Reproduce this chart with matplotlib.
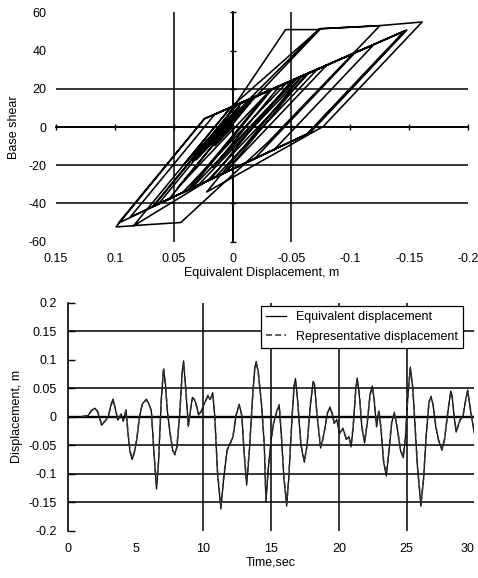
import matplotlib
matplotlib.use("Agg")
import matplotlib.pyplot as plt

plt.rcParams['font.family'] = ['Liberation Sans', 'DejaVu Sans']
plt.rcParams['axes.unicode_minus'] = False
plt.rcParams['font.size'] = 9

# ---------------- Top chart: hysteresis (equivalent displacement vs base shear)
HYST_X = [0.000, 0.015, -0.015, 0.031, -0.006, 0.012, -0.045, -0.074, 0.031, -0.010,
          -0.074, -0.125, -0.030, 0.044, 0.084, 0.002, -0.065, 0.0215, 0.084, 0.099,
          0.024, -0.017, 0.034, 0.003, 0.042, 0.0017, -0.074, -0.125, -0.161, -0.077,
          0.022, -0.059, -0.120, -0.0356, 0.097, 0.024, -0.148, -0.066, 0.019, -0.050,
          -0.147, -0.064, 0.067, -0.004, -0.080, 0.0067, 0.063, -0.0078, -0.055, 0.017,
          -0.040, -0.053, 0.035, 0.068, -0.003, -0.046, 0.0425, 0.054, -0.0165, -0.104,
          -0.0186, 0.006, -0.0624, -0.072, 0.015, 0.087, 0.0153, -0.146, -0.063, 0.036,
          -0.0336, -0.059, 0.029, 0.038, -0.030, 0.047, -0.016, -0.030]
HYST_F = [0.0, -9.8, 12.7, -17.2, 10.6, -1.1, 51.0, 51.0, -17.0, 12.0,
          51.5, 53.0, -8.0, -50.0, -51.6, 9.9, 28.3, -28.2, -51.7, -52.3,
          4.2, 15.3, -17.9, 5.4, -20.0, 10.2, 51.4, 53.1, 55.0, 0.3,
          -34.0, 26.7, 43.2, -11.7, -50.3, 4.4, 50.8, -2.9, -27.5, 24.3,
          50.5, -3.4, -41.4, 11.8, 32.4, -23.9, -40.3, 12.8, 25.6, -21.2,
          21.5, 25.1, -32.2, -41.7, 11.5, 23.2, -34.3, -37.7, 15.2, 38.9,
          -16.6, -23.7, 27.6, 30.2, -26.4, -47.2, 6.5, 50.3, -3.8, -32.4,
          19.8, 26.7, -30.3, -33.0, 18.0, -32.0, 14.9, 18.8]

X1_TICKS = [0.15, 0.1, 0.05, 0.0, -0.05, -0.1, -0.15, -0.2]
X1_LABELS = ['0.15', '0.1', '0.05', '0', '-0.05', '-0.1', '-0.15', '-0.2']
Y1_TICKS = [60, 40, 20, 0, -20, -40, -60]
Y1_LABELS = ['60', '40', '20', '0', '-20', '-40', '-60']
Y1_GRID = [20, 0, -20, -40]
X1_GRID = [0.05, 0.0, -0.05]

# ---------------- Bottom chart: displacement time histories
TIME = [1.0, 1.5, 1.75, 2.0, 2.2, 2.5, 2.75, 3.0, 3.2, 3.35,
        3.5, 3.7, 3.95, 4.1, 4.3, 4.45, 4.6, 4.75, 4.9, 5.1,
        5.3, 5.5, 5.8, 6.0, 6.17, 6.35, 6.55, 6.7, 6.9, 7.07,
        7.2, 7.35, 7.55, 7.75, 7.9, 8.05, 8.25, 8.45, 8.55, 8.7,
        8.9, 9.05, 9.2, 9.35, 9.5, 9.65, 9.85, 10.0, 10.2, 10.35,
        10.5, 10.7, 10.85, 11.05, 11.3, 11.5, 11.75, 12.0, 12.2, 12.4,
        12.65, 12.85, 13.0, 13.2, 13.4, 13.65, 13.8, 13.9, 14.05, 14.3,
        14.5, 14.62, 14.8, 15.0, 15.2, 15.45, 15.6, 15.75, 15.95, 16.15,
        16.3, 16.55, 16.7, 16.8, 16.95, 17.2, 17.45, 17.65, 17.9, 18.1,
        18.2, 18.4, 18.65, 18.8, 18.95, 19.15, 19.35, 19.5, 19.65, 19.85,
        20.05, 20.3, 20.55, 20.75, 20.9, 21.05, 21.25, 21.35, 21.5, 21.7,
        21.9, 22.1, 22.3, 22.47, 22.6, 22.78, 22.95, 23.1, 23.3, 23.5,
        23.7, 23.9, 24.1, 24.3, 24.55, 24.75, 24.9, 25.1, 25.27, 25.45,
        25.6, 25.8, 26.05, 26.25, 26.45, 26.65, 26.8, 26.95, 27.15, 27.35,
        27.6, 27.8, 28.05, 28.25, 28.35, 28.5, 28.65, 28.8, 28.95, 29.15,
        29.35, 29.5, 29.65, 29.85, 30.0]
EQUIV = [0.0, 0.002, 0.010, 0.015, 0.010, -0.015, -0.008, 0.0, 0.022, 0.031,
         0.015, -0.006, 0.004, -0.008, 0.012, -0.030, -0.062, -0.075, -0.065, -0.040,
         0.0, 0.022, 0.031, 0.022, 0.010, -0.060, -0.127, -0.080, 0.030, 0.083,
         0.060, 0.010, -0.030, -0.060, -0.065, -0.055, 0.0, 0.080, 0.098, 0.050,
         -0.017, 0.010, 0.034, 0.030, 0.020, 0.003, 0.010, 0.018, 0.030, 0.036,
         0.030, 0.042, 0.0, -0.100, -0.162, -0.110, -0.060, -0.045, -0.035, 0.0,
         0.022, 0.0, -0.060, -0.120, -0.060, 0.040, 0.085, 0.097, 0.080, 0.020,
         -0.050, -0.150, -0.090, -0.041, -0.010, 0.012, 0.019, -0.030, -0.110, -0.157,
         -0.110, 0.0, 0.055, 0.067, 0.030, -0.050, -0.080, -0.050, 0.020, 0.062,
         0.058, 0.0, -0.055, -0.040, -0.024, 0.005, 0.017, 0.005, -0.012, -0.005,
         -0.030, -0.020, -0.040, -0.035, -0.053, -0.020, 0.050, 0.068, 0.040, -0.020,
         -0.046, -0.010, 0.040, 0.054, 0.030, -0.018, 0.010, -0.020, -0.080, -0.104,
         -0.060, -0.010, 0.006, -0.020, -0.060, -0.072, -0.040, 0.040, 0.087, 0.050,
         -0.010, -0.090, -0.157, -0.110, -0.030, 0.025, 0.036, 0.020, -0.018, -0.040,
         -0.059, -0.040, 0.010, 0.045, 0.036, 0.0, -0.027, -0.015, -0.006, 0.000,
         0.030, 0.047, 0.020, -0.010, -0.030]
REPRES = [0.0, 0.002, 0.011, 0.014, 0.009, -0.013, -0.008, 0.001, 0.020, 0.029,
          0.016, -0.005, 0.005, -0.007, 0.011, -0.028, -0.060, -0.072, -0.064, -0.038,
          0.002, 0.021, 0.030, 0.021, 0.011, -0.057, -0.122, -0.078, 0.028, 0.086,
          0.058, 0.012, -0.028, -0.058, -0.067, -0.053, 0.002, 0.078, 0.094, 0.052,
          -0.015, 0.012, 0.032, 0.031, 0.018, 0.005, 0.008, 0.020, 0.028, 0.038,
          0.031, 0.040, 0.002, -0.096, -0.158, -0.108, -0.058, -0.047, -0.033, 0.002,
          0.020, 0.002, -0.058, -0.116, -0.058, 0.038, 0.088, 0.094, 0.078, 0.022,
          -0.048, -0.146, -0.088, -0.043, -0.008, 0.010, 0.021, -0.028, -0.106, -0.152,
          -0.108, 0.002, 0.053, 0.064, 0.032, -0.048, -0.078, -0.052, 0.022, 0.060,
          0.056, 0.002, -0.052, -0.042, -0.022, 0.007, 0.015, 0.007, -0.010, -0.007,
          -0.028, -0.022, -0.038, -0.037, -0.050, -0.018, 0.048, 0.065, 0.042, -0.018,
          -0.044, -0.008, 0.038, 0.052, 0.032, -0.016, 0.012, -0.018, -0.078, -0.100,
          -0.058, -0.008, 0.008, -0.018, -0.058, -0.070, -0.038, 0.042, 0.084, 0.052,
          -0.008, -0.088, -0.152, -0.106, -0.028, 0.027, 0.034, 0.022, -0.016, -0.042,
          -0.057, -0.038, 0.012, 0.043, 0.038, 0.002, -0.025, -0.017, -0.004, 0.002,
          0.028, 0.045, 0.022, -0.008, -0.028]

X2_TICKS = [0, 5, 10, 15, 20, 25, 30]
X2_LABELS = ['0', '5', '10', '15', '20', '25', '30']
Y2_TICKS = [0.2, 0.15, 0.1, 0.05, 0.0, -0.05, -0.1, -0.15, -0.2]
Y2_LABELS = ['0.2', '0.15', '0.1', '0.05', '0', '-0.05', '-0.1', '-0.15', '-0.2']
Y2_GRID = [0.15, 0.05, 0.0, -0.05, -0.1, -0.15]
X2_GRID = [10, 15, 20, 25]

fig = plt.figure(figsize=(4.78, 5.78), dpi=100)

# ================= top axes
ax1 = fig.add_axes([0.1172, 0.582, 0.862, 0.3965])
ax1.set_xlim(0.15, -0.2)
ax1.set_ylim(-60, 60)
for s in ['top', 'right']:
    ax1.spines[s].set_visible(False)
ax1.spines['left'].set_position(('data', 0))
ax1.spines['bottom'].set_position(('data', 0))
ax1.spines['left'].set_linewidth(1.3)
ax1.spines['bottom'].set_linewidth(1.3)
ax1.set_xticks(X1_TICKS)
ax1.set_yticks(Y1_TICKS)
ax1.tick_params(axis='both', direction='inout', length=5, width=1.0,
                labelbottom=False, labelleft=False)
for yv in Y1_GRID:
    ax1.axhline(yv, color='black', lw=1.1, zorder=1)
for xv in X1_GRID:
    ax1.axvline(xv, color='black', lw=1.1, zorder=1)
ax1.plot(HYST_X, HYST_F, color='black', lw=1.15, zorder=3)

sy1 = ax1.secondary_yaxis('left')
sy1.set_yticks(Y1_TICKS, labels=Y1_LABELS)
sy1.tick_params(length=0, pad=7)
sy1.spines['left'].set_visible(False)
sy1.set_ylabel('Base shear', labelpad=6)

sx1 = ax1.secondary_xaxis('bottom')
sx1.set_xticks(X1_TICKS, labels=X1_LABELS)
sx1.tick_params(length=0, pad=8)
sx1.spines['bottom'].set_visible(False)
sx1.set_xlabel('Equivalent Displacement, m', labelpad=2)

# ================= bottom axes
ax2 = fig.add_axes([0.1416, 0.0818, 0.851, 0.3945])
ax2.set_xlim(0, 30)
ax2.set_ylim(-0.2, 0.2)
for s in ['top', 'right', 'bottom']:
    ax2.spines[s].set_visible(False)
ax2.spines['left'].set_linewidth(1.2)
ax2.set_xticks(X2_TICKS, labels=X2_LABELS)
ax2.set_yticks(Y2_TICKS, labels=Y2_LABELS)
ax2.tick_params(axis='y', direction='in', length=5, width=1.0, pad=8)
ax2.tick_params(axis='x', length=0, pad=9)
ax2.get_xticklabels()[-1].set_horizontalalignment('right')
for yv in Y2_GRID:
    ax2.axhline(yv, color='black', lw=1.7 if yv == 0 else 1.1, zorder=1)
for xv in X2_GRID:
    ax2.axvline(xv, color='black', lw=1.1, zorder=1)
ax2.plot(TIME, EQUIV, color='black', lw=0.9, zorder=3, label='Equivalent displacement')
ax2.plot(TIME, REPRES, color='0.2', lw=1.1, ls=(0, (4, 2)), zorder=3,
         label='Representative displacement')
ax2.set_xlabel('Time,sec', labelpad=1)
ax2.set_ylabel('Displacement, m', labelpad=4)
leg = ax2.legend(loc='upper right', bbox_to_anchor=(0.972, 0.985), frameon=True,
                 fancybox=False, framealpha=1, edgecolor='black', fontsize=9,
                 handlelength=1.6, borderaxespad=0, borderpad=0.4, labelspacing=0.6)
leg.get_frame().set_linewidth(0.9)
leg.set_zorder(10)

fig.savefig('out.png', dpi=100, facecolor='white')
